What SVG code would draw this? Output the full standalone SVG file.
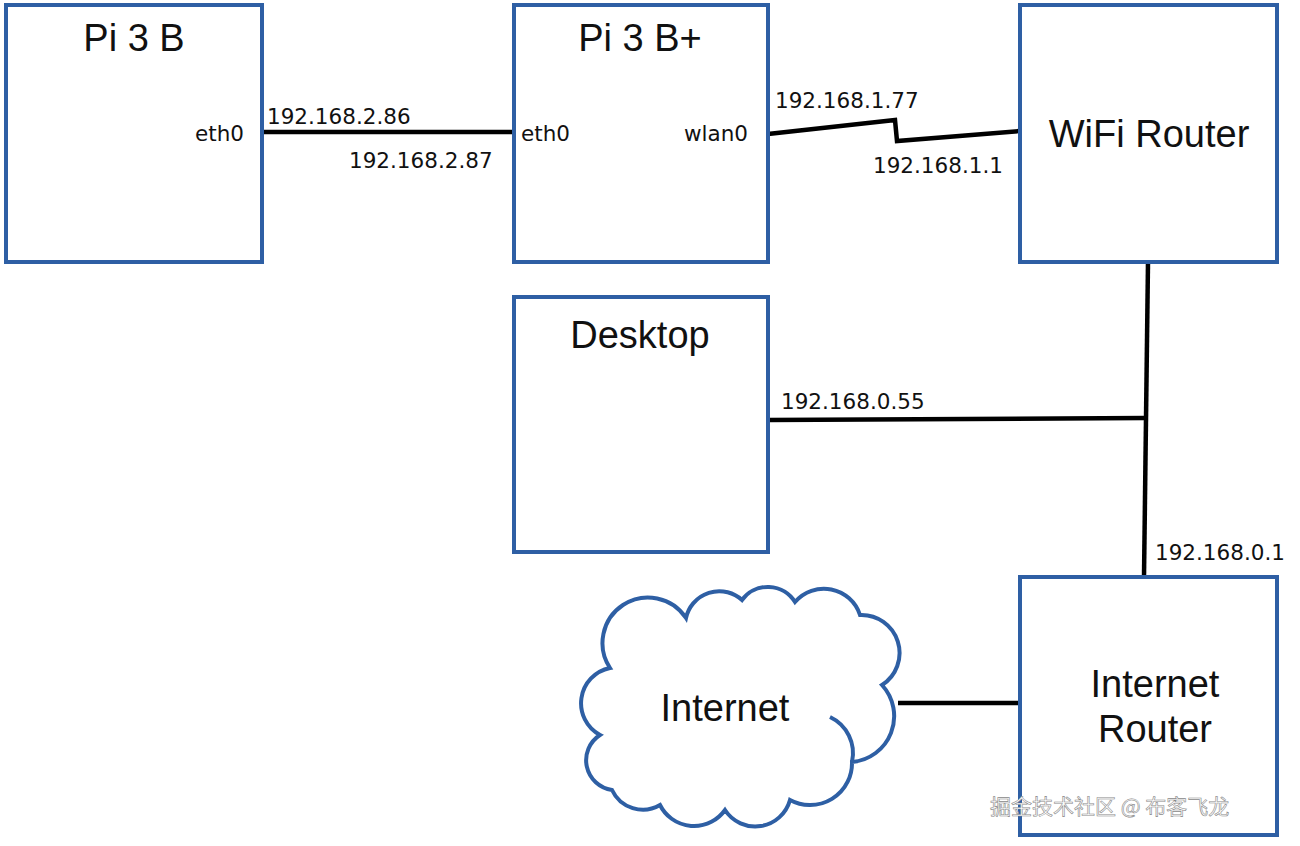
<svg xmlns="http://www.w3.org/2000/svg" width="1300" height="846" viewBox="0 0 1300 846">
<style>
.box{fill:#fff;stroke:#2e5fa4;stroke-width:4}
.ln{fill:none;stroke:#000;stroke-width:4.5}
text{font-family:"Liberation Sans",Arial,sans-serif;fill:#111}
.t{font-size:38px;text-anchor:middle}
.s{font-family:"DejaVu Sans",sans-serif;font-size:21.5px}
</style>
<rect width="1300" height="846" fill="#fff"/>
<g id="connectors">
<line class="ln" x1="262" y1="132" x2="514" y2="132"/>
<polyline class="ln" points="768,134 895,120 897,141 1020,131"/>
<line class="ln" x1="1148" y1="262" x2="1144" y2="577"/>
<line class="ln" x1="768" y1="420" x2="1146" y2="418"/>
<line class="ln" x1="898" y1="703" x2="1020" y2="703"/>
</g>
<g id="pi3b"><rect class="box" x="6" y="5" width="256" height="257"/><text class="t" x="134" y="51">Pi 3 B</text><text class="s" x="195" y="141">eth0</text></g>
<g id="pi3bplus"><rect class="box" x="514" y="5" width="254" height="257"/><text class="t" x="640" y="51">Pi 3 B+</text><text class="s" x="521" y="141">eth0</text><text class="s" x="684" y="141">wlan0</text></g>
<g id="wifi"><rect class="box" x="1020" y="5" width="257" height="257"/><text class="t" x="1149" y="147">WiFi Router</text></g>
<g id="desktop"><rect class="box" x="514" y="297" width="254" height="255"/><text class="t" x="640" y="348">Desktop</text></g>
<g id="irouter"><rect class="box" x="1020" y="577" width="257" height="258"/><text class="t" x="1155" y="697">Internet</text><text class="t" x="1155" y="742">Router</text></g>
<g id="internet">
<path fill="#fff" stroke="#2e5fa4" stroke-width="4" d="M610,668 A42,42 0 0 1 686,618 A34,34 0 0 1 742,600 A32,32 0 0 1 795,602 A38,38 0 0 1 860,615 A38,38 0 0 1 882,685 A46,46 0 0 1 852,762 A42,42 0 0 1 790,800 A36,36 0 0 1 725,810 A38,38 0 0 1 660,805 A34,34 0 0 1 612,790 A30,30 0 0 1 600,735 A36,36 0 0 1 610,668 Z"/>
<path fill="none" stroke="#2e5fa4" stroke-width="4" d="M830,717 A40,40 0 0 1 852,762"/>
<text class="t" x="725" y="721">Internet</text>
</g>
<g id="labels">
<text class="s" x="267" y="124">192.168.2.86</text>
<text class="s" x="349" y="168">192.168.2.87</text>
<text class="s" x="775" y="108">192.168.1.77</text>
<text class="s" x="873" y="173">192.168.1.1</text>
<text class="s" x="781" y="409">192.168.0.55</text>
<text class="s" x="1155" y="560">192.168.0.1</text>
</g>
<text x="990" y="814" style="font-family:'Noto Sans CJK SC',sans-serif;font-size:21px;fill:#fff;stroke:#888;stroke-width:0.6">掘金技术社区 @ 布客飞龙</text>
</svg>
